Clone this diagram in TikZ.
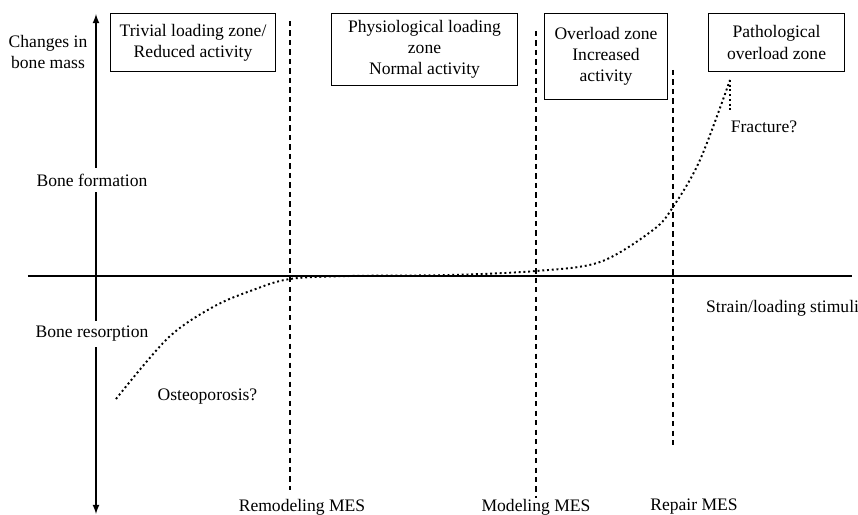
\documentclass[tikz,border=0pt]{standalone}
\usepackage{fontspec}
\setmainfont{Liberation Serif}
\usepackage{tikz}
\usetikzlibrary{arrows,positioning}
\tikzstyle{arrow} = [line width=0.8pt,->,>=latex]
\tikzset{
 zone/.style
  = {rectangle, draw, line width=0.6pt, align=center, anchor=north west,
     inner sep=2pt},
 lbl/.style
  = {fill=white, inner sep=3pt},
 mes/.style
  = {draw, dashed, line width=0.9pt, dash pattern=on 3pt off 2.4pt},
 curve/.style
  = {line width=1.1pt, dash pattern=on 1.1pt off 1.6pt},
}

\begin{document}
\begin{tikzpicture}
\useasboundingbox (-1.92,-4.78) rectangle (15.24,5.52);

% Axes
\coordinate (O) at (0,0);
\coordinate (top) at (0,5.24);
\coordinate (bot) at (0,-4.76);
\coordinate (xl) at (-1.36,0);
\coordinate (xr) at (15.12,0);
\draw[arrow] (O) -- (top);
\draw[arrow] (O) -- (bot);
\draw[line width=0.8pt] (xl) -- (xr);

% MES thresholds
\draw[mes] (3.88,5.1) -- (3.88,-4.28);
\draw[mes] (8.8,4.9) -- (8.8,-4.44);
\draw[mes] (11.54,4.12) -- (11.54,-3.42);

% Mechanostat curve
\draw[curve] plot[smooth,tension=0.55] coordinates {(0.4,-2.46) (1.44,-1.24)
  (2.34,-0.62) (3.14,-0.28) (3.88,-0.06) (5.08,0) (7.08,0.02) (8.8,0.1)
  (10.08,0.28) (11.14,0.92) (11.54,1.38) (12.08,2.32) (12.68,3.92)};
\coordinate (peak) at (12.68,3.92);
\coordinate (frac) at (12.68,3.32);
\draw[curve] (peak) -- (frac);

% Zones
\node[zone,minimum width=3.3cm,minimum height=1.16cm] (trivial) at (0.28,5.26)
  {Trivial loading zone/\\Reduced activity};
\node[zone,minimum width=3.72cm,minimum height=1.44cm] (physio) at (4.7,5.26)
  {Physiological loading\\zone\\Normal activity};
\node[zone,minimum width=2.46cm,minimum height=1.72cm] (over) at (8.96,5.26)
  {Overload zone\\Increased\\activity};
\node[zone,minimum width=2.72cm,minimum height=1.16cm] (patho) at (12.24,5.26)
  {Pathological\\overload zone};

% Axis labels
\node[align=center] (mass) at (-0.96,4.48) {Changes in\\bone mass};
\node[lbl] (form) at (-0.08,1.92) {Bone formation};
\node[lbl] (resorp) at (-0.08,-1.16) {Bone resorption};
\node[anchor=west] (strain) at (12.08,-0.64) {Strain/loading stimuli};

% Outcomes
\node (osteo) at (2.23,-2.42) {Osteoporosis?};
\node (fracture) at (13.36,2.98) {Fracture?};

% MES labels
\node (remod) at (4.12,-4.62) {Remodeling MES};
\node (model) at (8.8,-4.62) {Modeling MES};
\node (repair) at (11.96,-4.62) {Repair MES};

\end{tikzpicture}
\end{document}
